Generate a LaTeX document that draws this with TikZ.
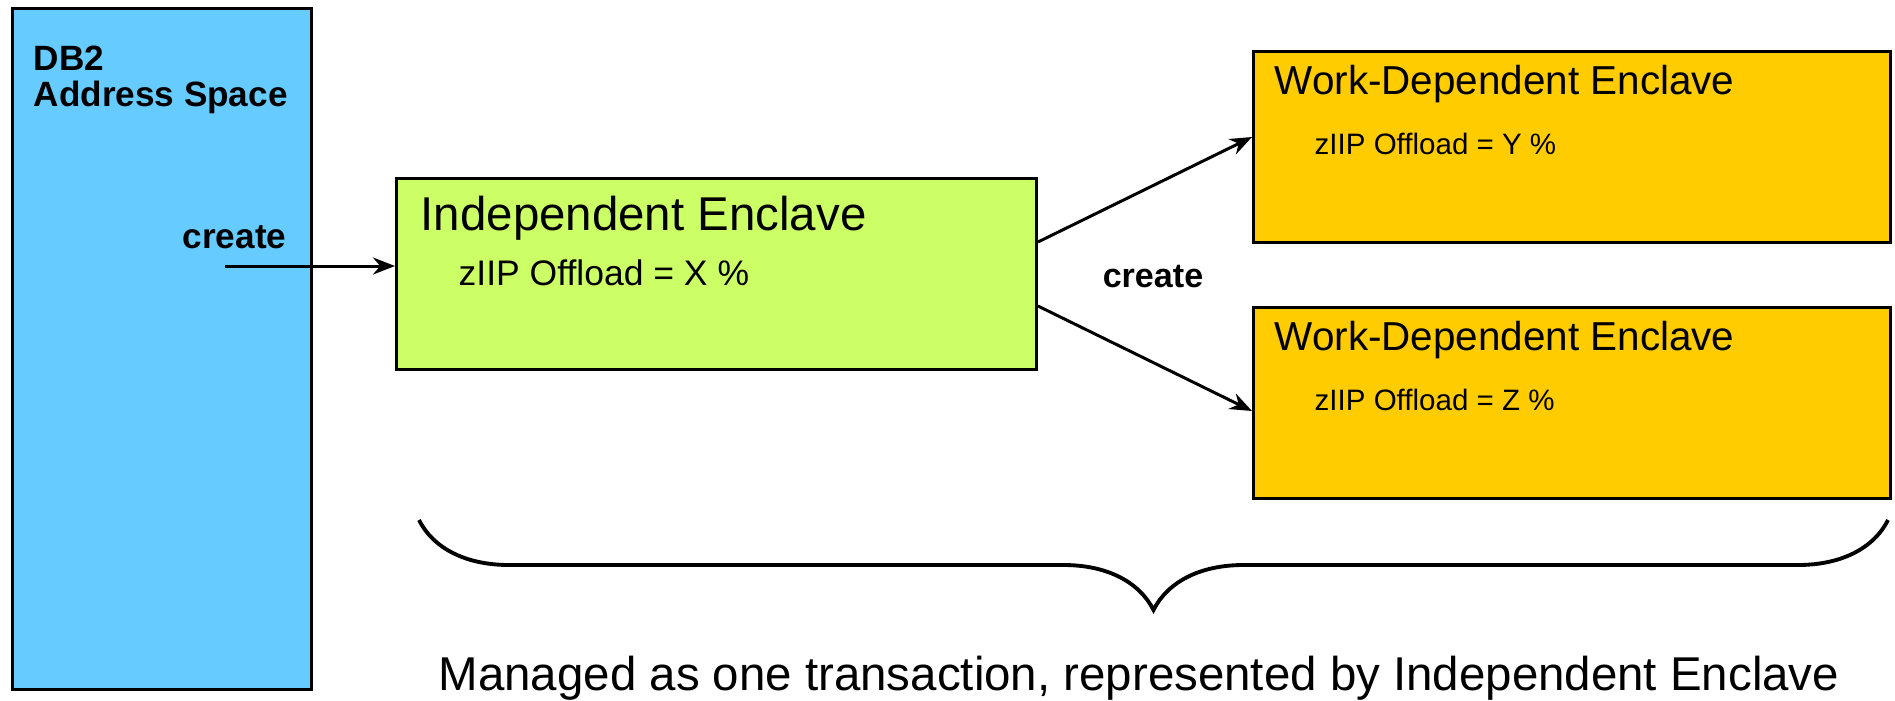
\documentclass[tikz,border=0pt]{standalone}
\usepackage{fontspec}
\setmainfont{Liberation Sans}
\usepackage{xcolor}
\usepackage{tikz}
\usetikzlibrary{arrows.meta,decorations.pathreplacing}

\definecolor{dbblue}{HTML}{66CCFF}
\definecolor{indgreen}{HTML}{CCFF66}
\definecolor{wdyellow}{HTML}{FFCC00}

\begin{document}
\begin{tikzpicture}[
    box/.style={draw=black, line width=0.85pt, anchor=south west, inner sep=0pt},
    title/.style={anchor=base west, inner sep=0pt},
    link/.style={-{Stealth[length=2.2mm,width=1.7mm]}, line width=0.85pt}
  ]
    \useasboundingbox (0,0) rectangle (18.95,7);

    % Address space
    \node[box, fill=dbblue, minimum width=2.99cm, minimum height=6.81cm] (db2) at (0.11,0.09) {};
    \node[anchor=north west, inner sep=0pt, align=left, font=\bfseries\fontsize{10}{10.3}\selectfont] (db2label) at (0.33,6.55) {DB2\\Address Space};
    \node[title, anchor=base east, font=\bfseries\fontsize{10}{12}\selectfont] (create1) at (2.87,4.52) {create};

    % Enclaves
    \node[box, fill=indgreen, minimum width=6.40cm, minimum height=1.91cm] (ind) at (3.95,3.29) {};
    \node[box, fill=wdyellow, minimum width=6.37cm, minimum height=1.91cm] (wdtop) at (12.52,4.56) {};
    \node[box, fill=wdyellow, minimum width=6.37cm, minimum height=1.91cm] (wdbot) at (12.52,2.00) {};

    \node[title, font=\fontsize{13.5}{16}\selectfont] (indtitle) at ([xshift=0.25cm,yshift=-0.53cm]ind.north west) {Independent Enclave};
    \node[title, font=\fontsize{10.1}{12}\selectfont] (indoff) at ([xshift=0.63cm,yshift=-1.08cm]ind.north west) {zIIP Offload = X \%};

    \node[title, font=\fontsize{11.5}{14}\selectfont] (wdtoptitle) at ([xshift=0.22cm,yshift=-0.44cm]wdtop.north west) {Work-Dependent Enclave};
    \node[title, font=\fontsize{8.4}{10}\selectfont] (wdtopoff) at ([xshift=0.62cm,yshift=-1.04cm]wdtop.north west) {zIIP Offload = Y \%};

    \node[title, font=\fontsize{11.5}{14}\selectfont] (wdbottitle) at ([xshift=0.22cm,yshift=-0.44cm]wdbot.north west) {Work-Dependent Enclave};
    \node[title, font=\fontsize{8.4}{10}\selectfont] (wdbotoff) at ([xshift=0.62cm,yshift=-1.04cm]wdbot.north west) {zIIP Offload = Z \%};

    % Arrows
    \coordinate (src) at (2.25,4.34);
    \draw[link] (src) -- (src -| ind.west);
    \draw[link] ([yshift=0.32cm]ind.east) -- ([yshift=0.1cm]wdtop.west);
    \draw[link] ([yshift=-0.32cm]ind.east) -- ([yshift=-0.08cm]wdbot.west);
    \node[anchor=base, inner sep=0pt, font=\bfseries\fontsize{9.7}{12}\selectfont] (create2) at (11.53,4.13) {create};

    % Brace
    \coordinate (braceL) at (4.19,1.80);
    \coordinate (braceR) at (18.88,1.80);
    \draw[line width=1.1pt, decorate, decoration={brace, amplitude=0.9cm}] (braceR) -- (braceL);
    \node[anchor=base, inner sep=0pt, font=\fontsize{13.5}{16}\selectfont] (summary) at (11.39,0.10) {Managed as one transaction, represented by Independent Enclave};
\end{tikzpicture}
\end{document}
